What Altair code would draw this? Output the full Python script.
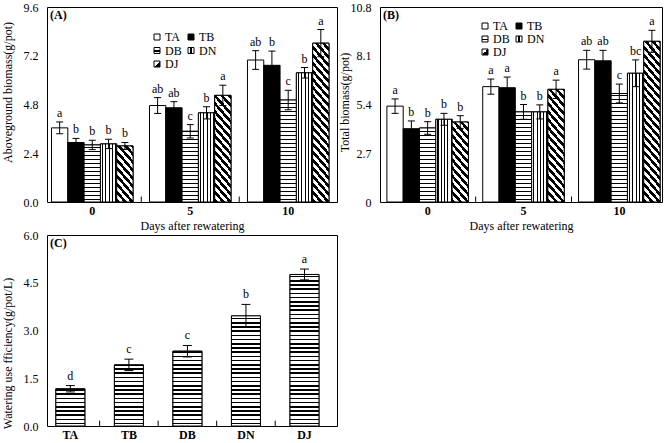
import altair as alt
import pandas as pd

FONT = "Liberation Serif"
treats = ["TA", "TB", "DB", "DN", "DJ"]
days = ["0", "5", "10"]

# Panel A: aboveground biomass (g/pot), values for days 0, 5, 10
a_mean = {"TA": [3.65, 4.75, 6.99], "TB": [2.93, 4.64, 6.73], "DB": [2.81, 3.48, 5.02],
          "DN": [2.86, 4.39, 6.36], "DJ": [2.76, 5.25, 7.82]}
a_err = {"TA": [0.29, 0.39, 0.46], "TB": [0.20, 0.30, 0.70], "DB": [0.23, 0.33, 0.48],
         "DN": [0.23, 0.30, 0.26], "DJ": [0.17, 0.50, 0.67]}
a_lab = {"TA": ["a", "ab", "ab"], "TB": ["b", "ab", "b"], "DB": ["b", "c", "c"],
         "DN": ["b", "b", "b"], "DJ": ["b", "a", "a"]}

# Panel B: total biomass (g/pot)
b_mean = {"TA": [5.31, 6.39, 7.88], "TB": [4.06, 6.33, 7.82], "DB": [4.10, 4.99, 6.01],
          "DN": [4.58, 4.99, 7.13], "DJ": [4.43, 6.24, 8.90]}
b_err = {"TA": [0.40, 0.42, 0.52], "TB": [0.43, 0.59, 0.58], "DB": [0.35, 0.41, 0.52],
         "DN": [0.33, 0.39, 0.74], "DJ": [0.35, 0.51, 0.61]}
b_lab = {"TA": ["a", "a", "ab"], "TB": ["b", "a", "ab"], "DB": ["b", "b", "c"],
         "DN": ["b", "b", "bc"], "DJ": ["b", "a", "a"]}

# Panel C: watering use efficiency (g/pot/L)
c_mean = [1.17, 1.92, 2.35, 3.46, 4.76]
c_err = [0.10, 0.18, 0.18, 0.36, 0.17]
c_lab = ["d", "c", "c", "b", "a"]

a_ticks = [0, 2.4, 4.8, 7.2, 9.6]
b_ticks = [0, 2.7, 5.4, 8.1, 10.8]
c_ticks = [0, 1.5, 3.0, 4.5, 6.0]

AX = dict(labelFont=FONT, titleFont=FONT, labelFontSize=12, titleFontSize=12, labelColor="black",
          titleColor="black", titleFontWeight="normal", grid=False, domain=False, ticks=False)


def stripe_stops(Q, period, frac, phase=0.0):
    stops = []
    pos = -phase
    while pos < Q:
        a = max(pos, 0.0)
        b = min(max(pos + frac * period, 0.0), Q)
        c = min(pos + period, Q)
        if b > a:
            stops += [(a / Q, "black"), (b / Q, "black")]
        if c > b:
            stops += [(b / Q, "white"), (c / Q, "white")]
        pos += period
    return [{"offset": round(o, 5), "color": col} for o, col in stops]


def grad(x1, y1, x2, y2, stops):
    return {"gradient": "linear", "x1": x1, "y1": y1, "x2": x2, "y2": y2, "stops": stops}


def horiz_fill(h, period=4.0, frac=0.38):
    return grad(0, 1, 0, 0, stripe_stops(h, period, frac, phase=period * 0.6))


def vert_fill(w, period=3.3, frac=0.33):
    return grad(0, 0, 1, 0, stripe_stops(w, period, frac, phase=period * 0.5))


def diag_fill(w, h, s=1.15, ph=7.0, frac=0.5):
    Q = s * w + h
    k = Q / (s * s * w * w + h * h)
    return grad(0, 1, round(k * s * w, 6), round(1 - k * h, 6),
                stripe_stops(Q, s * ph, frac, phase=0.0))


def gexpr(x1, y1, x2, y2, stops):
    st = ",".join("{offset:%s,color:'%s'}" % (o, c) for o, c in stops)
    return {"expr": "{gradient:'linear',x1:%s,y1:%s,x2:%s,y2:%s,stops:[%s]}" % (x1, y1, x2, y2, st)}


legend_range = [
    "white",
    "black",
    gexpr(0, 0, 0, 1, [(0, "white"), (0.45, "white"), (0.45, "black"), (0.68, "black"), (0.68, "white"), (1, "white")]),
    gexpr(0, 0, 1, 0, [(0, "white"), (0.4, "white"), (0.4, "black"), (0.62, "black"), (0.62, "white"), (1, "white")]),
    gexpr(0, 0, 1, 1, [(0, "white"), (0.5, "white"), (0.5, "black"), (1, "black")]),
]


def label_layer(tag):
    return alt.Chart(pd.DataFrame({"t": [tag]})).mark_text(
        align="left", baseline="top", font=FONT, fontSize=12, fontWeight="bold", color="black", fill="black"
    ).encode(x=alt.value(3), y=alt.value(3), text="t:N")


def bar_panel(mean, err, lab, ymax, yticks, W, H, pi, po, al, legx, legy, colpad, rowpad,
              tag, ytitle, tx, ty, zero_label=False):
    rows = []
    for t in treats:
        for i, d in enumerate(days):
            m = mean[t][i]
            e = err[t][i]
            rows.append(dict(day=d, treat=t, mean=m, lo=m - e, hi=m + e, lab=lab[t][i]))
    df = pd.DataFrame(rows)
    step = W / (len(days) - pi + 2 * po)
    barw = step * (1 - pi) / len(treats)
    xs = alt.Scale(domain=days, paddingInner=pi, paddingOuter=po, align=al)
    osc = alt.Scale(domain=treats, paddingInner=0, paddingOuter=0)
    ys = alt.Scale(domain=[0, ymax], nice=False, zero=True)
    xaxis = alt.Axis(title="Days after rewatering", labelAngle=0, labelFontWeight="bold",
                     labelPadding=3, titleY=18, **AX)
    if zero_label:
        yaxis = alt.Axis(values=yticks, labelExpr="datum.value == 0 ? '0' : format(datum.value, '.1f')",
                         title=ytitle, titleX=tx, titleY=ty, labelPadding=9, **AX)
    else:
        yaxis = alt.Axis(values=yticks, format=".1f", title=ytitle, titleX=tx, titleY=ty, labelPadding=9, **AX)
    X = alt.X("day:N", scale=xs, axis=xaxis)
    XO = alt.XOffset("treat:N", scale=osc)

    def Y(f):
        return alt.Y(f + ":Q", scale=ys, axis=yaxis, stack=None)

    base = alt.Chart(df).mark_bar(stroke="black", strokeWidth=1).encode(
        x=X, xOffset=XO, y=Y("mean"),
        fill=alt.Fill("treat:N", scale=alt.Scale(domain=treats, range=legend_range),
                      legend=alt.Legend(orient="none", legendX=legx, legendY=legy, columns=2,
                                        direction="horizontal",
                                        columnPadding=colpad, rowPadding=rowpad, symbolType="square",
                                        symbolSize=36, symbolStrokeColor="black", symbolStrokeWidth=1,
                                        labelFont=FONT, labelFontSize=12, labelOffset=2, title=None,
                                        labelColor="black", padding=0)),
    )
    overlays = []
    for i, r in df.iterrows():
        h = r["mean"] / ymax * H
        if r["treat"] == "DB":
            f = horiz_fill(h)
        elif r["treat"] == "DN":
            f = vert_fill(barw)
        elif r["treat"] == "DJ":
            f = diag_fill(barw, h)
        else:
            continue
        overlays.append(
            alt.Chart(df.iloc[[i]]).mark_bar(fill=f, stroke="black", strokeWidth=1).encode(
                x=X, xOffset=XO, y=Y("mean"))
        )
    rule = alt.Chart(df).mark_rule(color="black", strokeWidth=1).encode(
        x=X, xOffset=XO, y=Y("lo"), y2="hi:Q")
    caps = [
        alt.Chart(df).mark_tick(color="black", thickness=1, size=7, opacity=1).encode(
            x=X, xOffset=XO, y=Y(f))
        for f in ["lo", "hi"]
    ]
    txt = alt.Chart(df).mark_text(baseline="bottom", dy=-2, font=FONT, fontSize=12,
                                  color="black", fill="black").encode(
        x=X, xOffset=XO, y=Y("hi"), text="lab:N")
    tk = alt.Chart(pd.DataFrame({"day": days[1:], "z": [0, 0], "z2": [ymax * 0.028] * 2})).mark_rule(
        color="black", strokeWidth=1, xOffset=-pi * step / 2).encode(
        x=alt.X("day:N", scale=xs, axis=xaxis, bandPosition=0),
        y=Y("z"), y2="z2:Q")
    return alt.layer(base, *overlays, rule, *caps, txt, tk, label_layer(tag)).properties(width=W, height=H)


A = bar_panel(a_mean, a_err, a_lab, 9.6, a_ticks, 290, 195, 0.168, 0.064, 0.36, 104, 24, 3, 1.5,
              "(A)", "Aboveground biomass(g/pot)", -33, 85)
B = bar_panel(b_mean, b_err, b_lab, 10.8, b_ticks, 282, 195, 0.147, 0.045, 0.8, 99, 13, 3, 1,
              "(B)", "Total biomass(g/pot)", -29, 95, zero_label=True)

# Panel C
dfc = pd.DataFrame({"treat": treats, "mean": c_mean,
                    "lo": [m - e for m, e in zip(c_mean, c_err)],
                    "hi": [m + e for m, e in zip(c_mean, c_err)], "lab": c_lab})
WC, HC = 290, 191
pic, poc, alc = 0.505, 0.23, 0.33
stepc = WC / (len(treats) - pic + 2 * poc)
xsc = alt.Scale(domain=treats, paddingInner=pic, paddingOuter=poc, align=alc)
ysc = alt.Scale(domain=[0, 6.0], nice=False)
xaxc = alt.Axis(title=None, labelAngle=0, labelFontWeight="bold", labelPadding=3, **AX)
yaxc = alt.Axis(values=c_ticks, format=".1f", title="Watering use fficiency(g/pot/L)",
                titleX=-33, titleY=118, labelPadding=9, **AX)
XC = alt.X("treat:N", scale=xsc, axis=xaxc)


def YC(f):
    return alt.Y(f + ":Q", scale=ysc, axis=yaxc)


basec = alt.Chart(dfc).mark_bar(stroke="black", strokeWidth=1, fill="white").encode(x=XC, y=YC("mean"))
ovc = []
for i, r in dfc.iterrows():
    h = r["mean"] / 6.0 * HC
    ovc.append(alt.Chart(dfc.iloc[[i]]).mark_bar(fill=horiz_fill(h, 4.2, 0.38), stroke="black", strokeWidth=1)
               .encode(x=XC, y=YC("mean")))
rulec = alt.Chart(dfc).mark_rule(color="black").encode(x=XC, y=YC("lo"), y2="hi:Q")
capsc = [alt.Chart(dfc).mark_tick(color="black", thickness=1, size=9, opacity=1).encode(x=XC, y=YC(f))
         for f in ["lo", "hi"]]
txtc = alt.Chart(dfc).mark_text(baseline="bottom", dy=-3, font=FONT, fontSize=12,
                                color="black", fill="black").encode(
    x=XC, y=YC("hi"), text="lab:N")
tkc = alt.Chart(pd.DataFrame({"treat": treats[1:], "z": [0] * 4, "z2": [6.0 * 0.028] * 4})).mark_rule(
    color="black", xOffset=-pic * stepc / 2).encode(
    x=alt.X("treat:N", scale=xsc, axis=xaxc, bandPosition=0), y=YC("z"), y2="z2:Q")
C = alt.layer(basec, *ovc, rulec, *capsc, txtc, tkc, label_layer("(C)")).properties(width=WC, height=HC)

chart = alt.concat(A, B, C, columns=2, spacing={"row": 33, "column": 43}, bounds="flush").resolve_scale(
    fill="independent").resolve_legend(fill="independent").properties(
    padding={"left": 0, "top": 0, "right": 0, "bottom": 0}, background="white"
).configure_axis(**AX).configure_view(stroke="black", strokeWidth=1)

chart.save("out.html", embed_options={"renderer": "svg", "actions": False})
